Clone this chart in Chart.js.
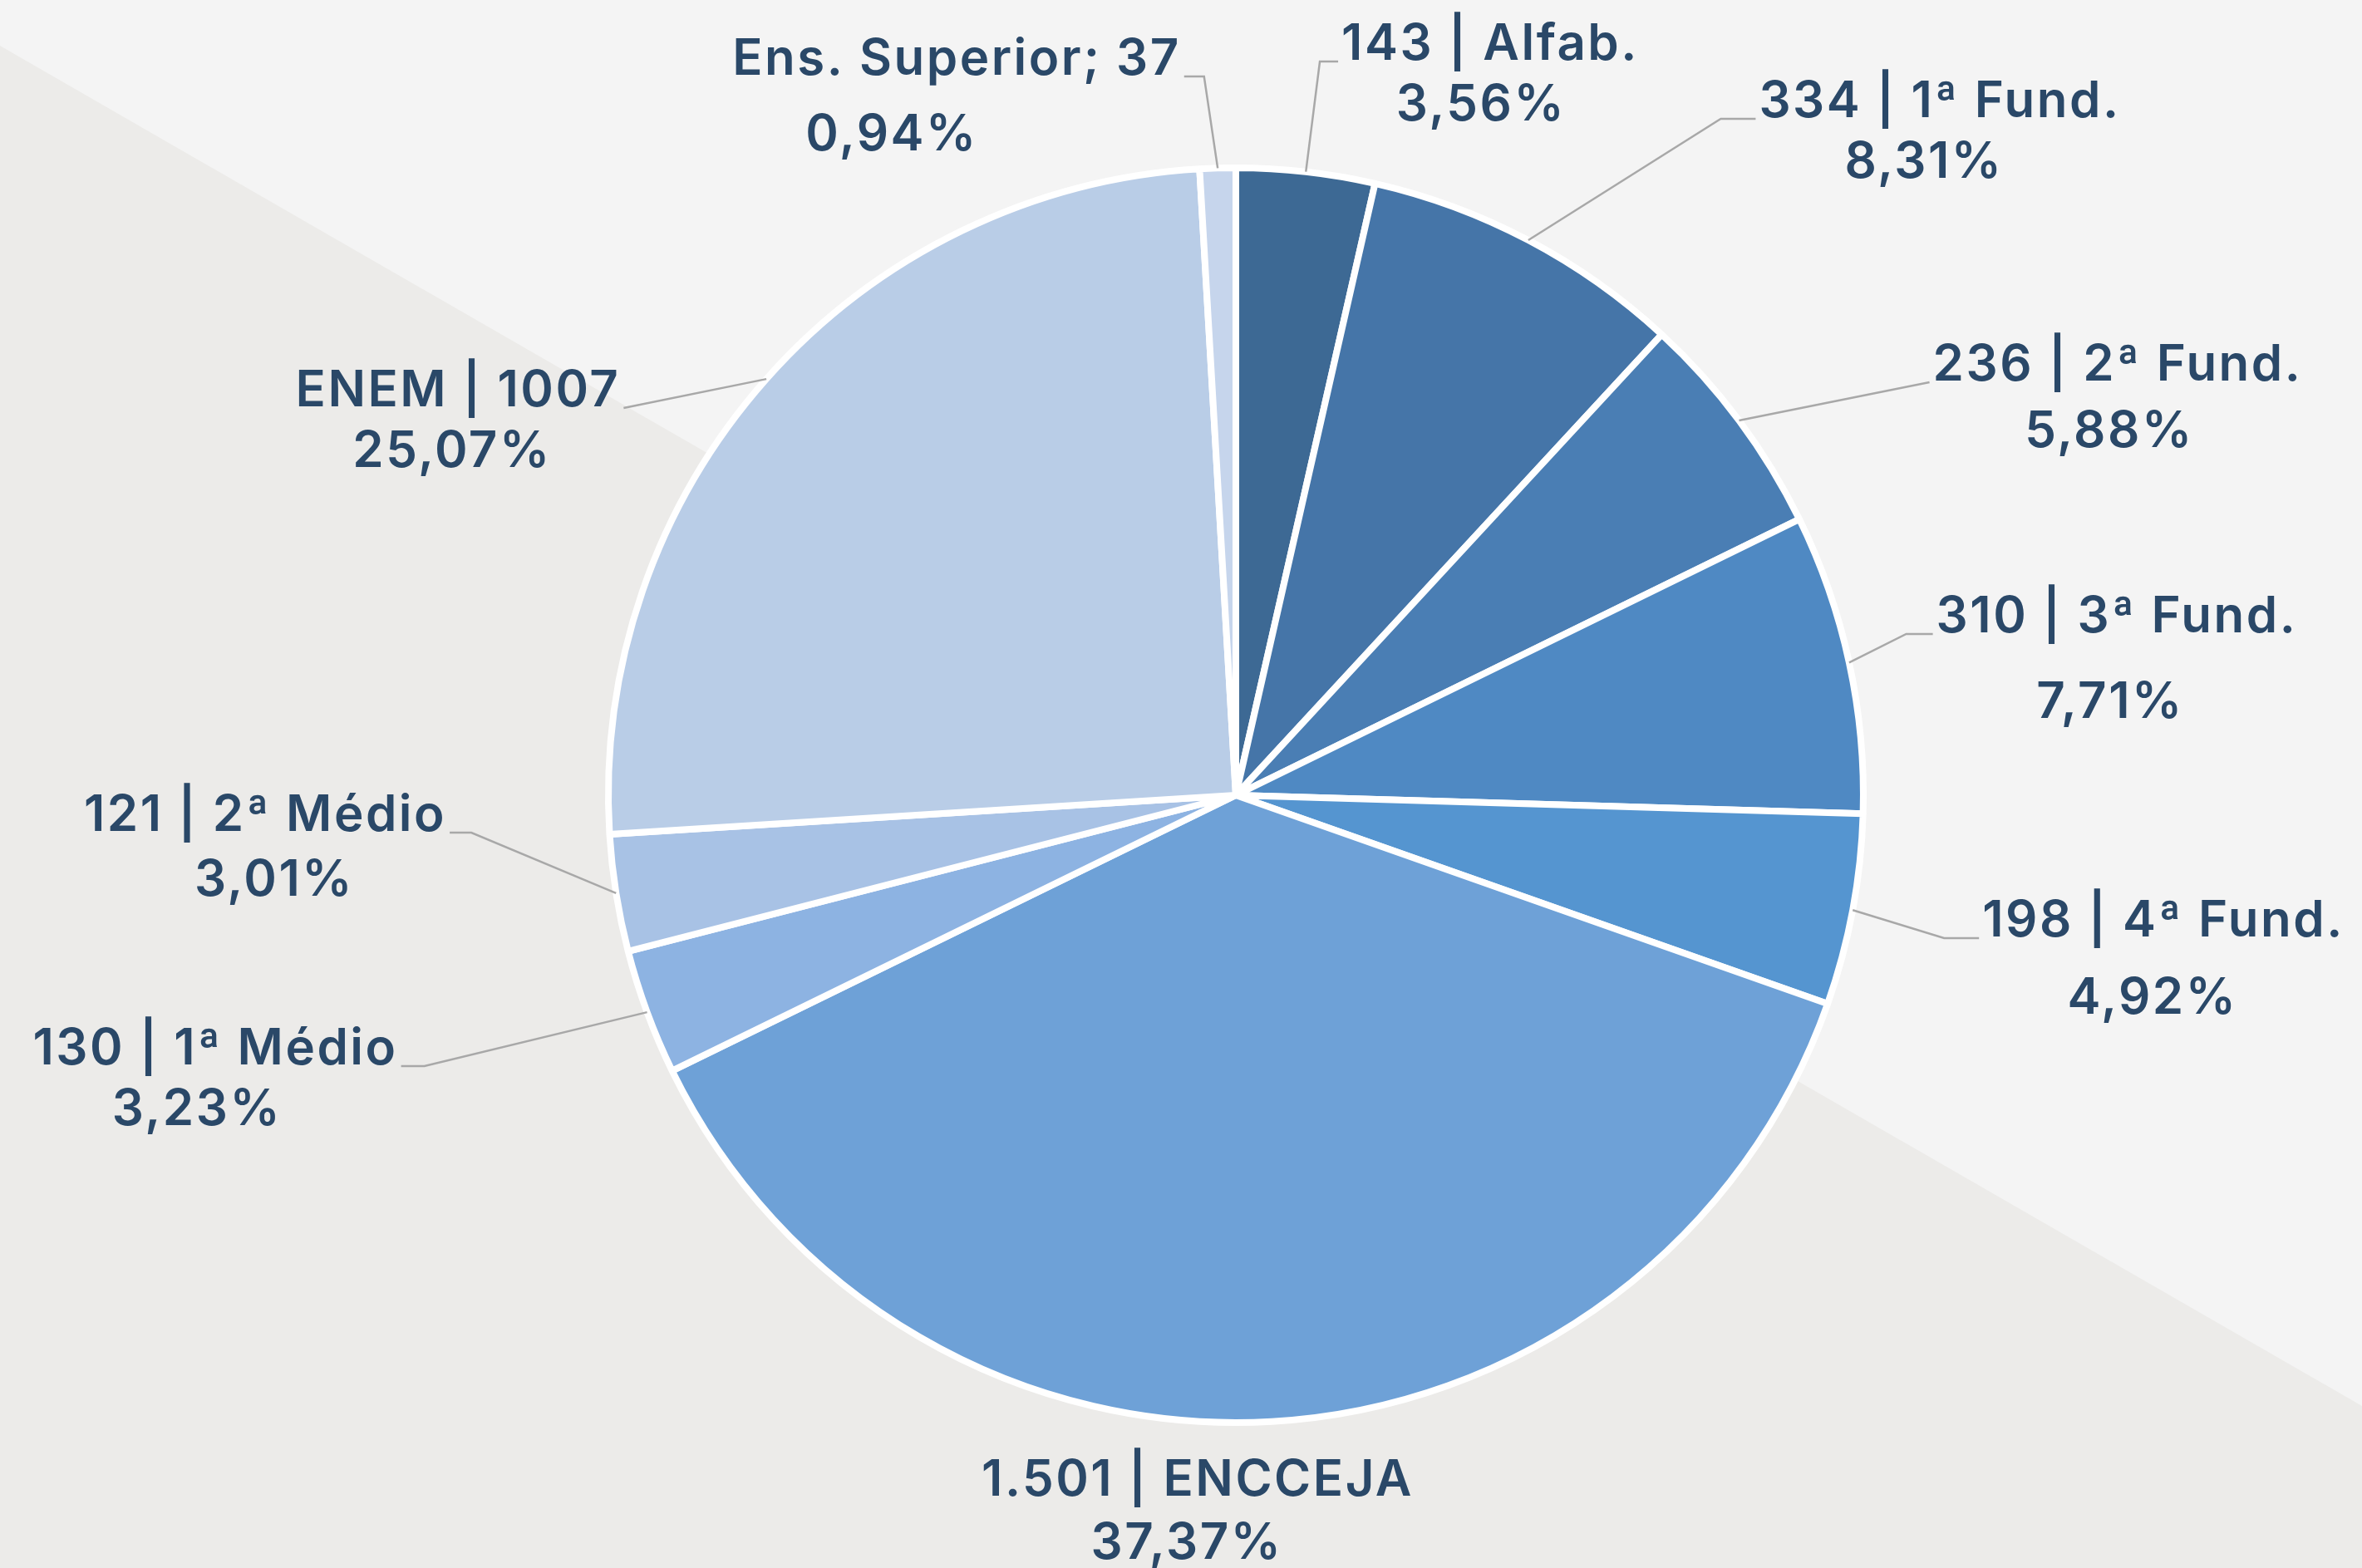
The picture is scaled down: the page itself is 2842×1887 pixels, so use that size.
<!DOCTYPE html>
<html>
<head>
<meta charset="utf-8">
<script src="https://cdn.jsdelivr.net/npm/chart.js@4.4.1/dist/chart.umd.min.js"></script>
<style>
html, body { margin: 0; padding: 0; }
body { width: 2842px; height: 1887px; overflow: hidden; background: #f4f4f4; position: relative; }
#shade {
    position: absolute; left: 0; top: 0; width: 2842px; height: 1887px;
    background: #ecebe9;
    clip-path: polygon(0 55px, 100% 1692px, 100% 100%, 0 100%);
}
canvas { display: block; position: absolute; left: 0; top: 0; }
</style>
</head>
<body>
<div id="shade"></div>
<canvas id="pieChart" width="2842" height="1887"></canvas>
<script>
// slices, clockwise from 12 o'clock
const categories = ['Alfab.', '1ª Fund.', '2ª Fund.', '3ª Fund.', '4ª Fund.', 'ENCCEJA', '1ª Médio', '2ª Médio', 'ENEM', 'Ens. Superior'];
const counts = [143, 334, 236, 310, 198, 1501, 130, 121, 1007, 37];
const labelTop = ['143 | Alfab.', '334 | 1ª Fund.', '236 | 2ª Fund.', '310 | 3ª Fund.', '198 | 4ª Fund.', '1.501 | ENCCEJA', '130 | 1ª Médio', '121 | 2ª Médio', 'ENEM | 1007', 'Ens. Superior; 37'];
const percents = ['3,56%', '8,31%', '5,88%', '7,71%', '4,92%', '37,37%', '3,23%', '3,01%', '25,07%', '0,94%'];

const sliceColors = ['#3d6994', '#4575a8', '#4a7eb4', '#4f89c3', '#5595d0', '#6ea1d7', '#8db3e2', '#a8c2e5', '#b9cde7', '#c6d5ec'];
const textColor = '#2a4868';
const leaderColor = '#a8a8a8';

// label placement, offsets from pie centre (px): [line1 x, line1 y, line2 x, line2 y]
const labelPos = [
    [306, -903, 295, -830],
    [847, -834, 828, -761],
    [1061, -517, 1051, -437],
    [1060, -214, 1052, -111],
    [1116, 152, 1103, 245],
    [-46, 825, -59, 901],
    [-1228, 306, -1250, 379],
    [-1168, 25, -1157, 103],
    [-936, -486, -943, -413],
    [-336, -885, -414, -794]
];
// which side of line 1 the leader leaves from, and length of the short horizontal piece
const leaderSide = ['left', 'left', 'left', 'left', 'left', 'none', 'right', 'right', 'right', 'right'];
const leaderElbow = [22, 42, 0, 32, 42, 0, 28, 26, 0, 24];

const labelPlugin = {
    id: 'sliceLabels',
    afterDatasetsDraw(chart) {
        const ctx = chart.ctx;
        const arcs = chart.getDatasetMeta(0).data;
        ctx.save();
        ctx.font = '600 60px Inter';
        ctx.letterSpacing = '2.5px';
        ctx.textAlign = 'center';
        ctx.textBaseline = 'middle';
        arcs.forEach((arc, i) => {
            const p = arc.getProps(['x', 'y', 'startAngle', 'endAngle', 'outerRadius'], true);
            const [x1, y1, x2, y2] = labelPos[i];
            const lx = p.x + x1, ly = p.y + y1;

            if (leaderSide[i] !== 'none') {
                const mid = (p.startAngle + p.endAngle) / 2;
                const ex = p.x + Math.cos(mid) * p.outerRadius;
                const ey = p.y + Math.sin(mid) * p.outerRadius;
                const half = ctx.measureText(labelTop[i]).width / 2;
                const dir = leaderSide[i] === 'left' ? -1 : 1;
                const sx = lx + dir * (half + 4);
                const sy = ly + 20;
                ctx.beginPath();
                ctx.moveTo(sx, sy);
                ctx.lineTo(sx + dir * leaderElbow[i], sy);
                ctx.lineTo(ex, ey);
                ctx.strokeStyle = leaderColor;
                ctx.lineWidth = 2.5;
                ctx.stroke();
            }

            ctx.fillStyle = textColor;
            ctx.fillText(labelTop[i], lx, ly);
            ctx.fillText(percents[i], p.x + x2, p.y + y2);
        });
        ctx.restore();
    }
};

const ctx = document.getElementById('pieChart').getContext('2d');
new Chart(ctx, {
    type: 'pie',
    data: {
        labels: categories,
        datasets: [{
            data: counts,
            backgroundColor: sliceColors,
            borderColor: '#ffffff',
            borderWidth: 8
        }]
    },
    options: {
        responsive: false,
        animation: false,
        layout: { padding: { left: 728, right: 596, top: 194, bottom: 167 } },
        plugins: {
            legend: { display: false },
            tooltip: { enabled: false }
        }
    },
    plugins: [labelPlugin]
});
</script>
</body>
</html>
